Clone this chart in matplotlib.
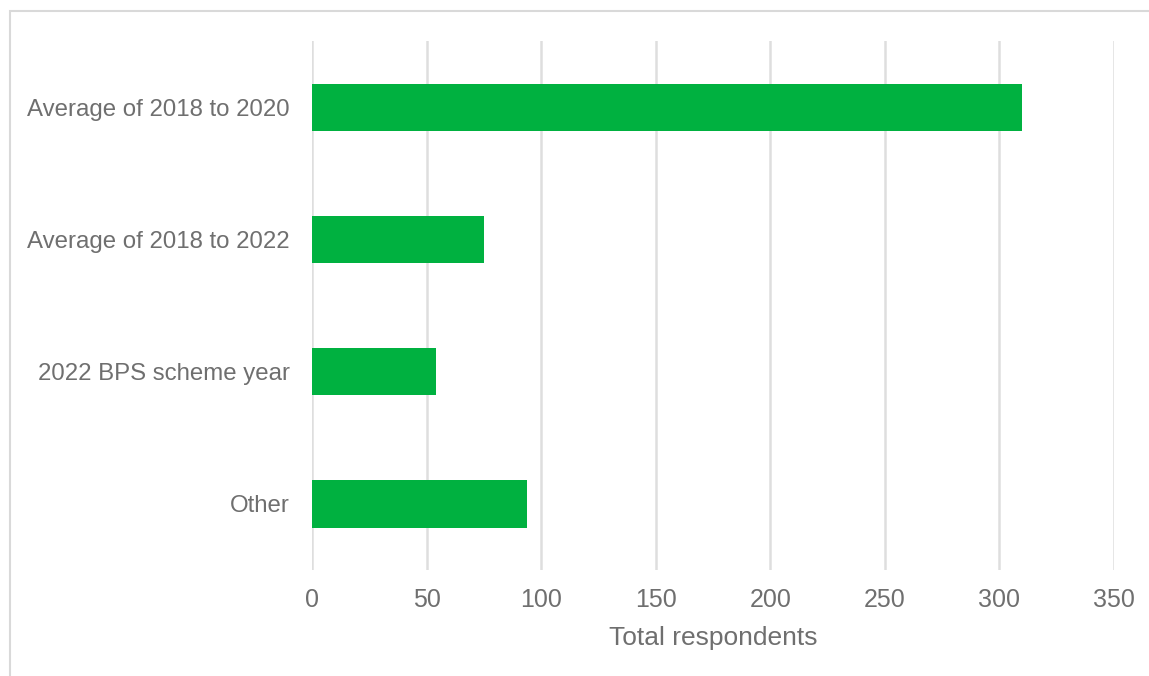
import matplotlib.pyplot as plt
from matplotlib.patches import Rectangle

categories = ['Average of 2018 to 2020', 'Average of 2018 to 2022', '2022 BPS scheme year', 'Other']
respondents = [310, 75, 54, 94]
xticks = [0, 50, 100, 150, 200, 250, 300, 350]

plt.rcParams['font.family'] = ['Liberation Sans', 'DejaVu Sans']

fig = plt.figure(figsize=(11.49, 6.76), dpi=100)
ax = fig.add_axes([0.2715, 0.157, 0.698, 0.782])

ax.barh(range(len(categories)), respondents, height=0.36, color='#00b140', zorder=3)
ax.set_ylim(len(categories) - 0.5, -0.5)
ax.set_xlim(0, 350)
ax.set_yticks(range(len(categories)))
ax.set_yticklabels(categories)
ax.set_xticks(xticks)

ax.grid(axis='x', color='#dedede', linewidth=1.8, zorder=0)
for s in ax.spines.values():
    s.set_visible(False)
ax.tick_params(length=0, labelcolor='#6f6f6f')
ax.tick_params(axis='x', labelsize=18, pad=13)
ax.tick_params(axis='y', labelsize=17.3, pad=16)
ax.set_xlabel('Total respondents', fontsize=19, color='#6f6f6f', labelpad=10)

# outer chart frame
fig.patches.append(Rectangle((10 / 1149, -0.1), 1.2, (676 - 11) / 676 + 0.1,
                             transform=fig.transFigure, fill=False,
                             edgecolor='#d9d9d9', linewidth=1.5))

fig.savefig('out.png', dpi=100)
